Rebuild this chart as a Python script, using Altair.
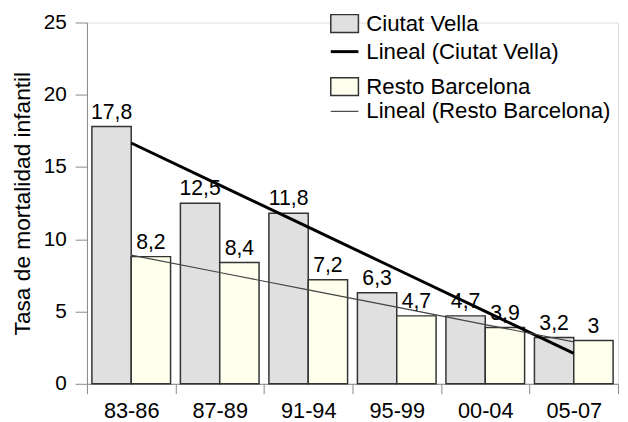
import altair as alt
import numpy as np
import pandas as pd

periods = ["83-86", "87-89", "91-94", "95-99", "00-04", "05-07"]
series = ["Ciutat Vella", "Resto Barcelona"]

# values as labelled on the chart
ciutat_vella = [17.8, 12.5, 11.8, 6.3, 4.7, 3.2]
resto_barcelona = [8.2, 8.4, 7.2, 4.7, 3.9, 3.0]
# bar heights as drawn (first Resto bar is drawn taller than its label)
ciutat_vella_drawn = [17.8, 12.5, 11.8, 6.3, 4.7, 3.2]
resto_barcelona_drawn = [8.8, 8.4, 7.2, 4.7, 3.9, 3.0]

legend_labels = ["Ciutat Vella", "Lineal (Ciutat Vella)",
                 "Resto Barcelona", "Lineal (Resto Barcelona)"]

FONT = "Liberation Sans"
GRAY = "#e0e0e0"
IVORY = "#ffffee"
EDGE = "#333333"


def fmt(v):
    return f"{v:g}".replace(".", ",")


rows = []
for i, p in enumerate(periods):
    rows.append({"period": p, "series": series[0], "height": ciutat_vella_drawn[i],
                 "label": fmt(ciutat_vella[i])})
    rows.append({"period": p, "series": series[1], "height": resto_barcelona_drawn[i],
                 "label": fmt(resto_barcelona[i])})
bars_df = pd.DataFrame(rows)

# linear trendlines (Excel "Lineal") fitted to the labelled values
xs = np.arange(1, len(periods) + 1)
trend_rows = []
for name, vals in [(series[0], ciutat_vella), (series[1], resto_barcelona)]:
    slope, intercept = np.polyfit(xs, np.array(vals), 1)
    for i, p in enumerate(periods):
        trend_rows.append({"period": p, "series": name, "fit": slope * xs[i] + intercept})
trend_df = pd.DataFrame(trend_rows)

x_enc = alt.X("period:N", sort=periods,
              scale=alt.Scale(paddingInner=0, paddingOuter=0),
              axis=alt.Axis(title=None, tickBand="extent", labelAngle=0,
                            labelFontSize=22, tickSize=10, labelPadding=7))
xo_enc = alt.XOffset("series:N", sort=series,
                     scale=alt.Scale(paddingInner=0, paddingOuter=0.125))
y_enc = alt.Y("height:Q", scale=alt.Scale(domain=[0, 25], nice=False),
              axis=alt.Axis(title="Tasa de mortalidad infantil", values=[0, 5, 10, 15, 20, 25],
                            grid=False, tickSize=12, labelPadding=9, labelFontSize=21,
                            titleFontSize=23, titleFontWeight="normal", titlePadding=9))

bars = alt.Chart(bars_df).mark_bar(stroke=EDGE, strokeWidth=1.5).encode(
    x=x_enc, xOffset=xo_enc, y=y_enc,
    fill=alt.Fill("series:N", scale=alt.Scale(domain=series, range=[GRAY, IVORY]), legend=None),
)

labels = alt.Chart(bars_df).mark_text(baseline="alphabetic", dy=-8, fontSize=21.5,
                                      font=FONT, color="black").encode(
    x=alt.X("period:N", sort=periods), xOffset=xo_enc, y="height:Q", text="label:N"
)

trend_cv = alt.Chart(trend_df).transform_filter(
    alt.datum.series == series[0]
).mark_line(color="black", strokeWidth=3).encode(
    x=alt.X("period:N", sort=periods), y=alt.Y("fit:Q")
)
trend_rb = alt.Chart(trend_df).transform_filter(
    alt.datum.series == series[1]
).mark_line(color="#444444", strokeWidth=1.2).encode(
    x=alt.X("period:N", sort=periods), y=alt.Y("fit:Q")
)

# manual legend (positions relative to the plot area)
one = pd.DataFrame({"k": [0]})
leg_layers = []
LX0, LX1, TX = 247, 275, 283
row_y = [1.5, 29.5, 65.5, 90]
# box rows
for idx, fill in [(0, GRAY), (2, IVORY)]:
    leg_layers.append(alt.Chart(one).mark_rect(fill=fill, stroke=EDGE, strokeWidth=1.5).encode(
        x=alt.value(LX0), x2=alt.value(LX1),
        y=alt.value(row_y[idx] - 9.5), y2=alt.value(row_y[idx] + 8.5)))
# line rows
for idx, col, w in [(1, "black", 3), (3, "#444444", 1.2)]:
    leg_layers.append(alt.Chart(one).mark_rule(color=col, strokeWidth=w).encode(
        x=alt.value(LX0), x2=alt.value(LX1), y=alt.value(row_y[idx])))
for idx, lab in enumerate(legend_labels):
    leg_layers.append(alt.Chart(one).mark_text(align="left", baseline="middle", fontSize=22.5,
                                               font=FONT, color="black").encode(
        x=alt.value(TX), y=alt.value(row_y[idx]), text=alt.value(lab)))

chart = alt.layer(bars, trend_cv, trend_rb, labels, *leg_layers).properties(
    width=538, height=366,
    autosize=alt.AutoSizeParams(type="none"),
    padding={"left": 80, "top": 12, "right": 2, "bottom": 36},
).configure_view(stroke=None).configure_axis(
    labelFont=FONT, titleFont=FONT, labelColor="black", titleColor="black",
    domainColor="black", domainWidth=1.5, tickColor="black", tickWidth=1.5,
).configure(background="white")

chart.save("out.html", embed_options={"renderer": "svg", "actions": False})
